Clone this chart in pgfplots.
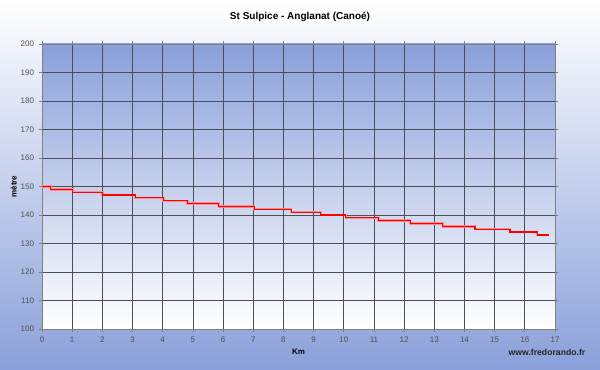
\documentclass[border=0pt]{standalone}
\usepackage{fontspec}
\setmainfont{Liberation Sans}
\usepackage{pgfplots}
\pgfplotsset{compat=1.18}
\definecolor{bgblue}{RGB}{138,160,218}
\definecolor{gridc}{RGB}{75,78,90}
\definecolor{tickc}{RGB}{80,80,80}
\pgfplotstableread{
x y
0 150
0.29 149
1.02 148
2.0 147
3.09 146
4.03 145
4.82 144
5.86 143
7.03 142
8.26 141
9.24 140
10.07 139
11.15 138
12.2 137
13.28 136
14.35 135
15.51 134
16.41 133
16.81 133
}\profile
\begin{document}
\begin{tikzpicture}
\shade[top color=white, bottom color=bgblue] (0pt,0pt) rectangle (450pt,277.5pt);
\begin{axis}[at={(31.5pt,30.75pt)}, anchor=south west, scale only axis,
  width=384.75pt, height=213.75pt,
  xmin=0, xmax=17, ymin=100, ymax=200,
  xtick={0,1,...,17}, ytick={100,110,...,200},
  grid=major, major grid style={gridc, line width=0.55pt},
  axis line style={gray, line width=0.6pt},
  tick style={gray, line width=0.5pt}, tick align=outside, major tick length=2.5pt,
  ticklabel style={font=\fontsize{6}{7}\selectfont, text=tickc},
  /pgf/number format/assume math mode=true,
  axis background/.style={top color=bgblue, bottom color=white},
  xlabel={Km}, ylabel={mètre},
  label style={font=\bfseries\fontsize{6}{7}\selectfont},
  xlabel style={yshift=2pt},
  ylabel style={yshift=-4pt},
]
\addplot[const plot, color=red!45, line width=1.8pt] table {\profile};
\addplot[const plot, color=red, line width=0.9pt] table {\profile};
\end{axis}
\node[font=\bfseries\fontsize{7.5}{9}\selectfont] at (225pt,264.5pt) {St Sulpice - Anglanat (Canoé)};
\node[anchor=east, font=\bfseries\fontsize{6.5}{8}\selectfont, text=black!85] at (442.5pt,13.5pt) {www.fredorando.fr};
\end{tikzpicture}
\end{document}
